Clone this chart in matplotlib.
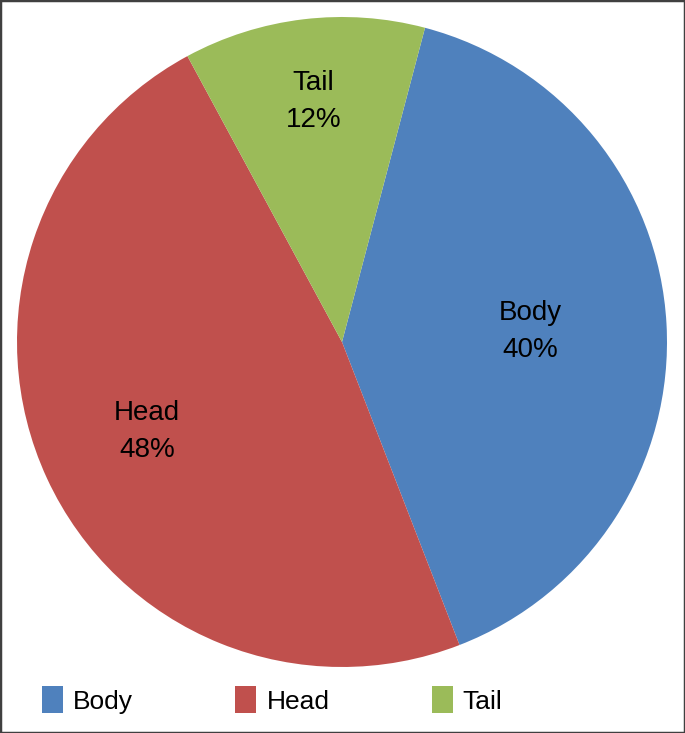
import numpy as np
import matplotlib.pyplot as plt
from matplotlib.patches import Rectangle

plt.rcParams['font.family'] = ['Liberation Sans', 'DejaVu Sans']

parts = ["Body", "Head", "Tail"]
shares = [40, 48, 12]
colors = ["#4F81BD", "#C0504D", "#9BBB59"]
# how far out each data label sits, as a fraction of the radius
label_dist = [0.58, 0.66, 0.745]

W, H = 685, 733
fig = plt.figure(figsize=(W / 100, H / 100), dpi=100)

cx, cy, r = 342, 391, 325
ax = fig.add_axes([(cx - r) / W, (cy - r) / H, 2 * r / W, 2 * r / H])
wedges, _ = ax.pie(shares, colors=colors, startangle=75.2, counterclock=False,
                   radius=1, wedgeprops=dict(linewidth=0))
ax.set_xlim(-1, 1)
ax.set_ylim(-1, 1)
ax.set_aspect('equal')
ax.axis('off')

for w, name, val, d in zip(wedges, parts, shares, label_dist):
    mid = np.deg2rad((w.theta1 + w.theta2) / 2)
    ax.text(d * np.cos(mid), d * np.sin(mid), f"{name}\n{val}%",
            ha='center', va='center', fontsize=20, linespacing=1.55)

fig.legend(wedges, parts, loc='center left', bbox_to_anchor=(42 / W, 1 - 700 / H),
           ncol=3, frameon=False, handlelength=0.8, handleheight=1.15,
           handletextpad=0.38, columnspacing=3.87, borderpad=0, borderaxespad=0,
           prop=dict(size=19))

fig.patches.append(Rectangle((0, 0), 1, 1, transform=fig.transFigure, fill=False,
                             edgecolor="#404040", linewidth=2.5))

fig.savefig("out.png", dpi=100)
